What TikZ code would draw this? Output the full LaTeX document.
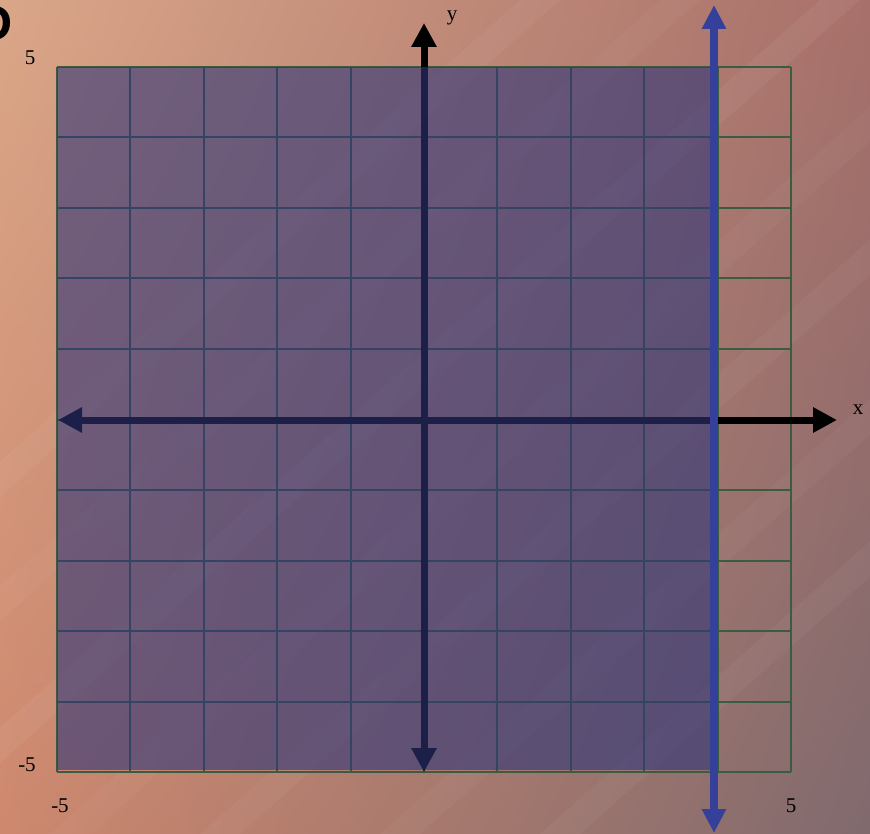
\documentclass[tikz,border=0pt]{standalone}
\usepackage{fontspec}
\setmainfont{Liberation Serif}
\setsansfont{Liberation Sans}
\usetikzlibrary{arrows.meta,shadings}
\definecolor{gridgreen}{RGB}{60,92,66}
\definecolor{shadeblue}{RGB}{47,53,120}
\definecolor{vline}{RGB}{52,64,154}
\definecolor{woodUL}{RGB}{218,166,136}
\definecolor{woodUR}{RGB}{168,112,106}
\definecolor{woodLL}{RGB}{206,136,110}
\definecolor{woodLR}{RGB}{128,106,110}
\tikzset{
  gridline/.style={draw=gridgreen, line width=2pt},
  axisline/.style={draw=black, line width=7pt, {Triangle[length=24pt,width=24pt]}-{Triangle[length=24pt,width=24pt]}},
  bluearrow/.style={draw=vline, line width=8pt, {Triangle[length=24pt,width=23pt]}-{Triangle[length=24pt,width=23pt]}},
  lab/.style={font=\fontsize{21}{24}\selectfont, inner sep=0pt, text=black},
}
\begin{document}
\begin{tikzpicture}[x=1pt,y=-1pt]
\useasboundingbox (0,0) rectangle (870,834);
\clip (0,0) rectangle (870,834);
% wood background
\shade[upper left=woodUL, upper right=woodUR, lower left=woodLL, lower right=woodLR] (0,0) rectangle (870,834);
% faint grain bands
\foreach \s/\o in {0/0.04,140/0.03,300/0.05,470/0.03,620/0.04,800/0.03,960/0.04}{
  \fill[white, opacity=\o] (\s-420,834) -- (\s-380,834) -- (\s+560,0) -- (\s+520,0) -- cycle;
}
% grid
\foreach \i in {0,...,10}{
  \draw[gridline] ({57+73.4*\i},67) -- ({57+73.4*\i},772);
  \draw[gridline] (57,{67+70.5*\i}) -- (791,{67+70.5*\i});
}
% axes
\coordinate (ytop) at (424,23);
\coordinate (ybot) at (424,772);
\coordinate (xleft) at (58,420);
\coordinate (xright) at (837,420);
\draw[axisline] (ybot) -- (ytop);
\draw[axisline] (xleft) -- (xright);
% shaded region
\fill[fill=shadeblue, fill opacity=0.6] (57,67) rectangle (713,770);
% boundary line
\coordinate (btop) at (714,5);
\coordinate (bbot) at (714,833);
\draw[bluearrow] (bbot) -- (btop);
% labels
\node[lab] (l5y) at (30,58) {5};
\node[lab] (lm5y) at (27,765) {-5};
\node[lab] (lm5x) at (60,806) {-5};
\node[lab] (l5x) at (791,806) {5};
\node[lab] (ly) at (452,18) {y};
\node[lab] (lx) at (858,410) {x};
\node[font=\sffamily\bfseries\fontsize{50}{56}\selectfont, inner sep=0pt, anchor=east] (dlab) at (13,23) {D};
\end{tikzpicture}
\end{document}
